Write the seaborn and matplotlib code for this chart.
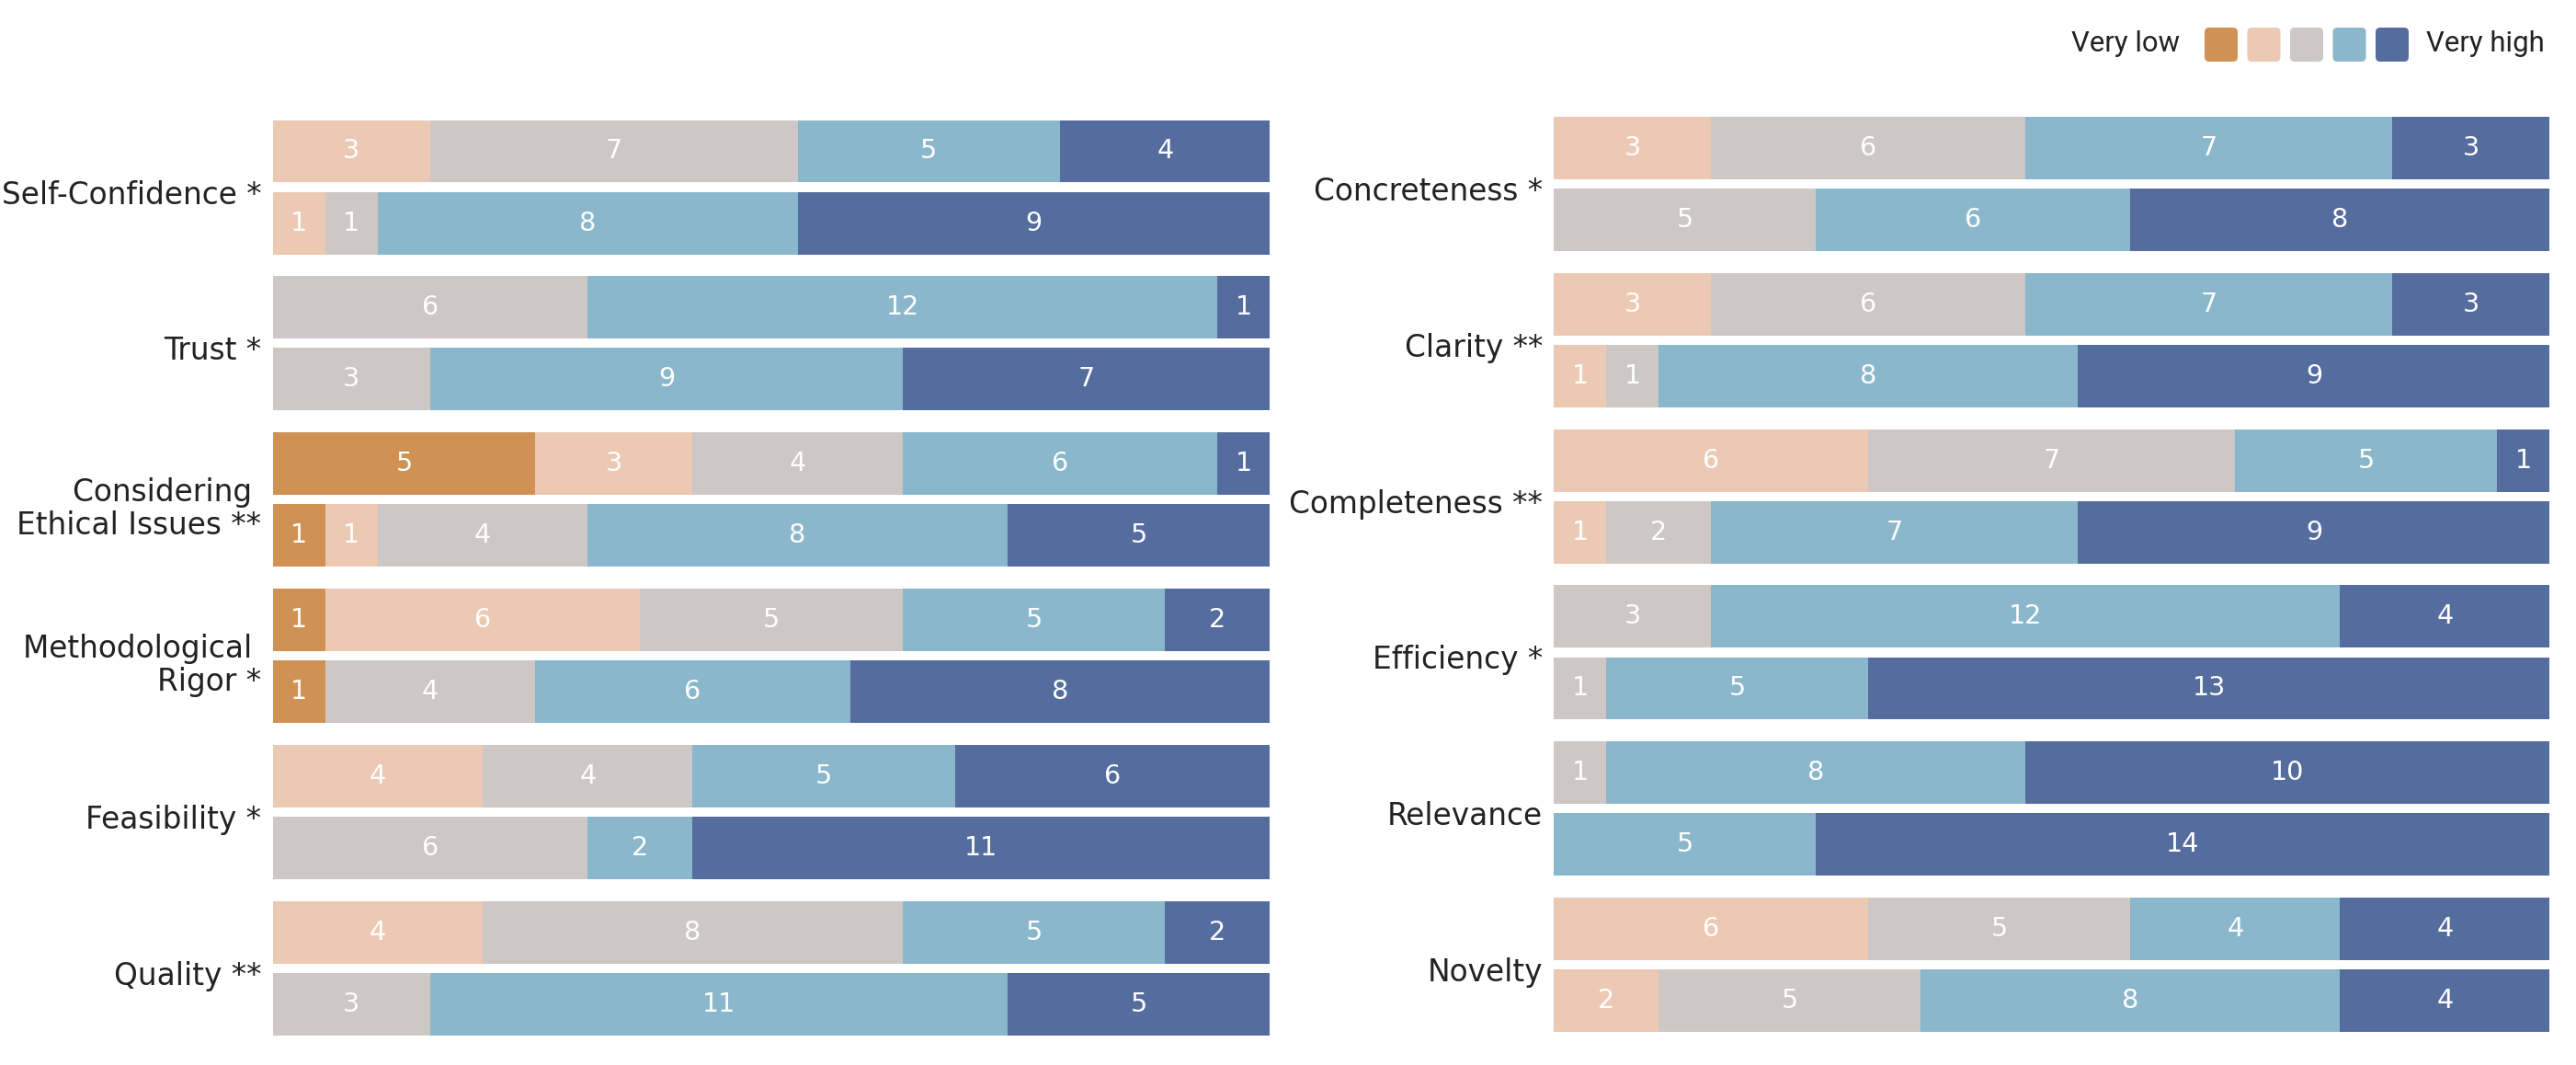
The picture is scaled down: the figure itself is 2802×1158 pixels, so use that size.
import numpy as np
import pandas as pd
import seaborn as sns
from matplotlib import pyplot as plt
from matplotlib import transforms
from matplotlib.patches import FancyBboxPatch

# Likert levels, lowest to highest
levels = ["Very low", "Low", "Neutral", "High", "Very high"]
level_colors = ["#CF9254", "#ECC9B2", "#CDC7C6", "#8AB7CB", "#556D9E"]
conditions = ["top", "bottom"]

left_criteria = [
    "Self-Confidence *",
    "Trust *",
    "Considering \nEthical Issues **",
    "Methodological \nRigor *",
    "Feasibility *",
    "Quality **",
]
left_top = [
    [0, 3, 7, 5, 4],
    [0, 0, 6, 12, 1],
    [5, 3, 4, 6, 1],
    [1, 6, 5, 5, 2],
    [0, 4, 4, 5, 6],
    [0, 4, 8, 5, 2],
]
left_bottom = [
    [0, 1, 1, 8, 9],
    [0, 0, 3, 9, 7],
    [1, 1, 4, 8, 5],
    [1, 0, 4, 6, 8],
    [0, 0, 6, 2, 11],
    [0, 0, 3, 11, 5],
]

right_criteria = [
    "Concreteness *",
    "Clarity **",
    "Completeness **",
    "Efficiency *",
    "Relevance",
    "Novelty",
]
right_top = [
    [0, 3, 6, 7, 3],
    [0, 3, 6, 7, 3],
    [0, 6, 7, 5, 1],
    [0, 0, 3, 12, 4],
    [0, 0, 1, 8, 10],
    [0, 6, 5, 4, 4],
]
right_bottom = [
    [0, 0, 5, 6, 8],
    [0, 1, 1, 8, 9],
    [0, 1, 2, 7, 9],
    [0, 0, 1, 5, 13],
    [0, 0, 0, 5, 14],
    [0, 2, 5, 8, 4],
]


def build_frame(criteria, top, bottom):
    rows = []
    for i, crit in enumerate(criteria):
        for cond, counts in zip(conditions, (top[i], bottom[i])):
            cum = np.cumsum(counts)
            for k in range(len(levels)):
                rows.append(
                    {
                        "criterion": crit,
                        "condition": cond,
                        "level": k,
                        "count": counts[k],
                        "cum": cum[k],
                    }
                )
    return pd.DataFrame(rows)


def draw_panel(ax, criteria, top, bottom):
    df = build_frame(criteria, top, bottom)
    total = sum(top[0])

    # stack by overlaying cumulative bars, widest first
    for k in reversed(range(len(levels))):
        sub = df[df["level"] == k]
        n_before = len(ax.containers)
        sns.barplot(
            data=sub,
            x="cum",
            y="criterion",
            hue="condition",
            order=criteria,
            hue_order=conditions,
            orient="h",
            palette={c: level_colors[k] for c in conditions},
            width=0.92,
            gap=0.13,
            saturation=1,
            linewidth=0,
            errorbar=None,
            legend=False,
            ax=ax,
        )
        for container in ax.containers[n_before:]:
            for patch in container:
                yc = patch.get_y() + patch.get_height() / 2
                group = int(round(yc))
                cond = 0 if yc < group else 1
                counts = (top, bottom)[cond][group]
                val = counts[k]
                if val > 0:
                    ax.text(
                        patch.get_width() - val / 2,
                        yc,
                        str(val),
                        ha="center",
                        va="center",
                        color="white",
                        fontsize=10.3,
                    )

    ax.set_xlim(0, total)
    ax.set_ylim(len(criteria) - 1 + 0.43, -0.43)
    ax.set_xticks([])
    ax.set_xlabel("")
    ax.set_ylabel("")
    ax.tick_params(axis="y", length=0, pad=4.5, labelsize=11.8, labelcolor="#222222")
    # labels sit slightly below the group centre in the original
    shift = transforms.ScaledTranslation(0, -1.8 / 72, ax.figure.dpi_scale_trans)
    for label in ax.get_yticklabels():
        label.set_transform(label.get_transform() + shift)
        label.set_linespacing(1.12)
    sns.despine(ax=ax, left=True, bottom=True)


sns.set_theme(style="white")
plt.rcParams["font.family"] = ["DejaVu Sans"]

fig = plt.figure(figsize=(14.01, 5.79), dpi=200)
ax_left = fig.add_axes([0.1059, 0.0277, 0.3871, 0.8596])
ax_right = fig.add_axes([0.6033, 0.0310, 0.3865, 0.8594])

draw_panel(ax_left, left_criteria, left_top, left_bottom)
draw_panel(ax_right, right_criteria, right_top, right_bottom)

# legend: colour scale from very low to very high
W, H = fig.get_size_inches()
sq_w, sq_h, step = 36 / 200, 37 / 200, 46.5 / 200
x0 = 2398 / 200
y0 = H - 67 / 200
for i, color in enumerate(level_colors):
    fig.patches.append(
        FancyBboxPatch(
            (x0 + i * step, y0),
            sq_w,
            sq_h,
            boxstyle="round,pad=0,rounding_size=0.025",
            transform=fig.dpi_scale_trans,
            facecolor=color,
            edgecolor="none",
        )
    )
fig.text(2371 / 2802, 1 - 47 / 1158, "Very low", ha="right", va="center",
         fontsize=11.2, family=["Roboto", "DejaVu Sans"], color="#222222")
fig.text(2639 / 2802, 1 - 47 / 1158, "Very high", ha="left", va="center",
         fontsize=11.2, family=["Roboto", "DejaVu Sans"], color="#222222")

fig.savefig("out.png", dpi=200)
